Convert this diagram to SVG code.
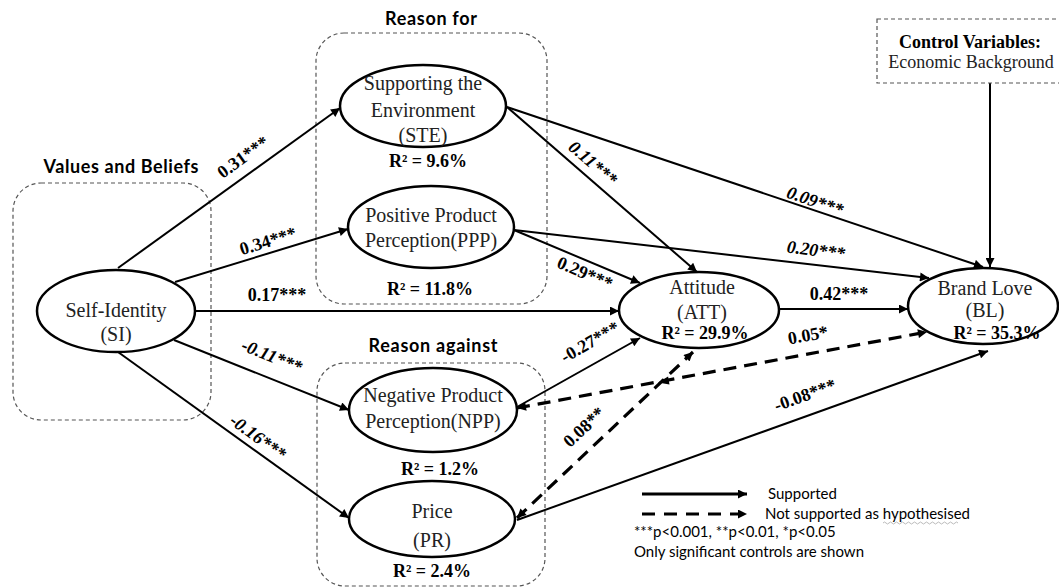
<svg xmlns="http://www.w3.org/2000/svg" width="1059" height="587" viewBox="0 0 1059 587">
<defs>
<marker id="ah" viewBox="0 0 10 10" refX="10" refY="5" markerWidth="11" markerHeight="9" orient="auto-start-reverse" markerUnits="userSpaceOnUse">
<path d="M0,0 L10,5 L0,10 z" fill="#000"/>
</marker>
<style>
.grp{fill:none;stroke:#555;stroke-width:1.2;stroke-dasharray:4 3}
.node{fill:#fff;stroke:#000;stroke-width:2.5}
.nt{font-family:"Liberation Serif","Times New Roman",serif;font-size:20px;fill:#222;text-anchor:middle}
.r2{font-family:"Liberation Serif","Times New Roman",serif;font-size:18px;font-weight:bold;fill:#000;text-anchor:middle}
.hd{font-family:Lato,"Open Sans",sans-serif;font-size:18px;font-weight:bold;fill:#000;text-anchor:middle}
.pl{font-family:"Liberation Serif","Times New Roman",serif;font-size:18px;font-weight:bold;fill:#000;text-anchor:middle}
.it{font-style:italic}
.sl{fill:none;stroke:#000;stroke-width:2;marker-end:url(#ah)}
.dl{fill:none;stroke:#000;stroke-width:3.2;stroke-dasharray:13 8;marker-end:url(#ah)}
.lg{font-family:Lato,"Open Sans",sans-serif;font-size:15px;fill:#000}
</style>
</defs>
<rect width="1059" height="587" fill="#fff"/>

<g id="groups">
<rect class="grp" x="13" y="183" width="198" height="237" rx="28"/>
<text class="hd" x="121" y="173" textLength="155">Values and Beliefs</text>
<rect class="grp" x="316" y="33" width="231" height="271" rx="28"/>
<text class="hd" x="431" y="25" textLength="92">Reason for</text>
<rect class="grp" x="317" y="363" width="228" height="223" rx="28"/>
<text class="hd" x="433" y="352" textLength="129">Reason against</text>
</g>

<g id="connectors">
<line class="sl" x1="118" y1="268" x2="340" y2="108"/>
<line class="sl" x1="175" y1="282" x2="348" y2="229"/>
<line class="sl" x1="195" y1="311" x2="619" y2="311"/>
<line class="sl" x1="174" y1="340" x2="349" y2="410"/>
<line class="sl" x1="118" y1="352" x2="349" y2="518"/>
<line class="sl" x1="507" y1="107" x2="697" y2="272"/>
<line class="sl" x1="507" y1="107" x2="983" y2="267"/>
<line class="sl" x1="514" y1="230" x2="929" y2="278"/>
<line class="sl" x1="514" y1="230" x2="640" y2="283"/>
<line class="sl" x1="779" y1="309" x2="908" y2="309"/>
<line class="sl" x1="517" y1="407" x2="640" y2="338"/>
<line class="sl" x1="517" y1="520" x2="988" y2="351"/>
<line class="sl" x1="990" y1="83" x2="990" y2="267"/>
<line class="dl" x1="517" y1="408" x2="927" y2="332" style="marker-start:url(#ah)"/>
<line class="dl" x1="517" y1="518" x2="693" y2="352" style="marker-start:url(#ah)"/>
<polygon points="658,382.5 669.5,384.4 668.1,376.6" fill="#000"/>
</g>

<g id="path-labels">
<text class="pl" x="243" y="163" transform="rotate(-36 243 157)">0.31***</text>
<text class="pl" x="268" y="247" transform="rotate(-17 268 241)">0.34***</text>
<text class="pl" x="277" y="301">0.17***</text>
<text class="pl it" x="272" y="362" transform="rotate(22 272 356)">-0.11***</text>
<text class="pl it" x="258" y="443" transform="rotate(36 258 437)">-0.16***</text>
<text class="pl it" x="593" y="169" transform="rotate(41 593 163)">0.11***</text>
<text class="pl it" x="815" y="207" transform="rotate(19 815 201)">0.09***</text>
<text class="pl it" x="816" y="256" transform="rotate(7 816 250)">0.20***</text>
<text class="pl" x="585" y="279" transform="rotate(23 585 273)">0.29***</text>
<text class="pl" x="839" y="300">0.42***</text>
<text class="pl" x="590" y="348" transform="rotate(-30 590 342)">-0.27***</text>
<text class="pl" x="808" y="341" transform="rotate(-10 808 335)">0.05*</text>
<text class="pl" x="584" y="433" transform="rotate(-43 584 427)">0.08**</text>
<text class="pl" x="805" y="401" transform="rotate(-20 805 395)">-0.08***</text>
</g>

<g id="SI">
<ellipse class="node" cx="116" cy="311" rx="79" ry="41"/>
<text class="nt" x="116" y="317">Self-Identity</text>
<text class="nt" x="116" y="341">(SI)</text>
</g>

<g id="STE">
<ellipse class="node" cx="423" cy="106" rx="83" ry="41"/>
<text class="nt" x="423" y="90">Supporting the</text>
<text class="nt" x="423" y="117">Environment</text>
<text class="nt" x="423" y="142">(STE)</text>
<text class="r2" x="428" y="167">R² = 9.6%</text>
</g>

<g id="PPP">
<ellipse class="node" cx="431" cy="227" rx="83" ry="41"/>
<text class="nt" x="431" y="222">Positive Product</text>
<text class="nt" x="431" y="247">Perception(PPP)</text>
<text class="r2" x="430" y="295">R² = 11.8%</text>
</g>

<g id="NPP">
<ellipse class="node" cx="433" cy="410" rx="84" ry="42"/>
<text class="nt" x="433" y="402">Negative Product</text>
<text class="nt" x="433" y="428">Perception(NPP)</text>
<text class="r2" x="440" y="475">R² = 1.2%</text>
</g>

<g id="PR">
<ellipse class="node" cx="432" cy="519" rx="83" ry="38"/>
<text class="nt" x="432" y="518">Price</text>
<text class="nt" x="432" y="547">(PR)</text>
<text class="r2" x="432" y="577">R² = 2.4%</text>
</g>

<g id="ATT">
<ellipse class="node" cx="699" cy="310" rx="80" ry="38"/>
<text class="nt" x="702" y="294">Attitude</text>
<text class="nt" x="702" y="319">(ATT)</text>
<text class="r2" x="705" y="339">R² = 29.9%</text>
</g>

<g id="BL">
<ellipse class="node" cx="983" cy="306" rx="75" ry="38"/>
<text class="nt" x="985" y="295">Brand Love</text>
<text class="nt" x="985" y="317">(BL)</text>
<text class="r2" x="997" y="339">R² = 35.3%</text>
</g>

<g id="CV">
<rect x="877" y="19" width="190" height="64" fill="none" stroke="#555" stroke-width="1.2" stroke-dasharray="4 3"/>
<text class="r2" x="970" y="48">Control Variables:</text>
<text class="nt" x="971" y="68" style="font-size:18px">Economic Background</text>
</g>

<g id="legend">
<line class="sl" x1="642" y1="494" x2="747" y2="494" style="stroke-width:3"/>
<text class="lg" x="768" y="499">Supported</text>
<line class="dl" x1="642" y1="514" x2="747" y2="514" style="stroke-dasharray:13 9"/>
<text class="lg" x="765" y="519">Not supported as <tspan>hypothesised</tspan></text>
<path d="M883,523 q1.5,-2 3,0 t3,0 t3,0 t3,0 t3,0 t3,0 t3,0 t3,0 t3,0 t3,0 t3,0 t3,0 t3,0 t3,0 t3,0 t3,0 t3,0 t3,0 t3,0 t3,0 t3,0 t3,0 t3,0 t3,0 t3,0" fill="none" stroke="#aaa" stroke-width="0.8"/>
<text class="lg" x="634" y="537">***p&lt;0.001, **p&lt;0.01, *p&lt;0.05</text>
<text class="lg" x="634" y="557">Only significant controls are shown</text>
</g>
</svg>
